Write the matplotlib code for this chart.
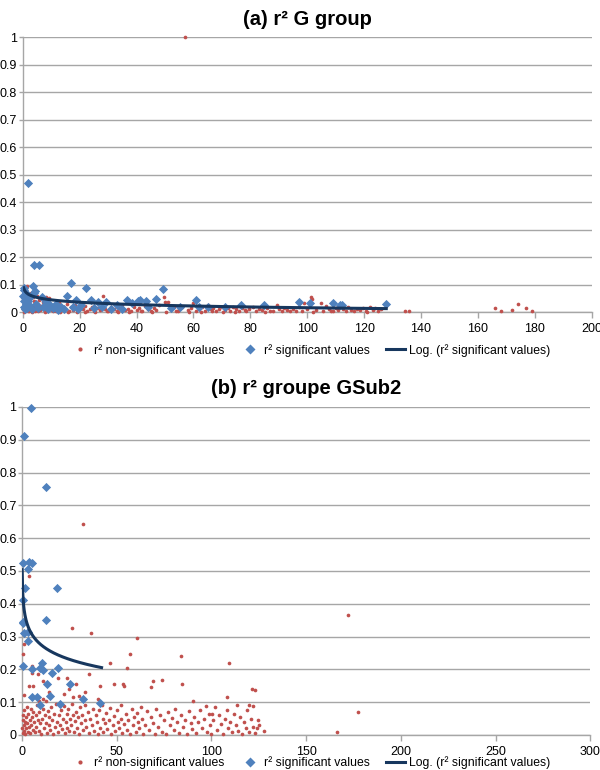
import numpy as np
import matplotlib
matplotlib.use("Agg")
from matplotlib import pyplot as plt
from matplotlib.lines import Line2D

plt.rcParams["font.family"] = ["Liberation Sans", "DejaVu Sans"]

RED = "#C0504D"
BLUE = "#4F81BD"
NAVY = "#17375E"
GRID = "#A6A6A6"

# ---- (a) r2 G group ----
a_red = [
    (0.2, 0.01), (0.5, 0.03), (0.8, 0.005), (1, 0.045), (1.2, 0.02), (1.4, 0.096), (1.6, 0.012),
    (2, 0.035), (2.3, 0.002), (2.6, 0.025), (3, 0.05), (3.3, 0.008), (3.7, 0.018), (4, 0.04),
    (4.4, 0.003), (4.8, 0.028), (5.2, 0.012), (5.6, 0.045), (6, 0.006), (6.5, 0.022), (7, 0.035),
    (7.4, 0.01), (8, 0.055), (8.5, 0.004), (9, 0.018), (9.6, 0.03), (10.2, 0.008), (11, 0.025),
    (11.5, 0.002), (12, 0.015), (12.8, 0.035), (13.5, 0.006), (14, 0.02), (14.8, 0.012),
    (15.5, 0.03), (16.3, 0.004), (17, 0.018), (17.8, 0.008), (18.5, 0.026), (19.3, 0.003),
    (20, 0.015), (21, 0.01), (21.8, 0.022), (22.6, 0.005), (23.5, 0.012), (24.3, 0.02), (25, 0.003),
    (26, 0.016), (27, 0.008), (28.2, 0.06), (29, 0.012), (30, 0.004), (31, 0.02), (32, 0.01),
    (33, 0.003), (34, 0.015), (35, 0.025), (36, 0.006), (37, 0.012), (38, 0.002), (39, 0.018),
    (40, 0.008), (41, 0.014), (42, 0.004), (43, 0.022), (44, 0.01), (45, 0.003), (46, 0.015),
    (47, 0.007), (48, 0.025), (49.5, 0.053), (49.9, 0.037), (51, 0.036), (52, 0.01), (53, 0.018),
    (54, 0.004), (55, 0.012), (56, 0.02), (57, 1.0), (58, 0.008), (59, 0.015), (60, 0.031),
    (61, 0.005), (62, 0.012), (63, 0.02), (64, 0.003), (65, 0.025), (66, 0.01), (67, 0.016),
    (68, 0.004), (69, 0.012), (70, 0.02), (71, 0.006), (72, 0.015), (73, 0.002), (74, 0.02),
    (75, 0.01), (76, 0.004), (77, 0.014), (78, 0.007), (79.6, 0.01), (81, 0.018), (82, 0.003),
    (83, 0.012), (84, 0.006), (86, 0.015), (87, 0.004), (89.4, 0.026), (90, 0.01), (91, 0.003),
    (92, 0.016), (93, 0.008), (94, 0.002), (95, 0.012), (96, 0.005), (97, 0.018), (98, 0.003),
    (99, 0.033), (100, 0.012), (101.5, 0.056), (101.8, 0.048), (103, 0.008), (104.7, 0.033),
    (105.5, 0.004), (106.7, 0.022), (107.5, 0.01), (108.5, 0.003), (110, 0.015), (111, 0.006),
    (112.5, 0.012), (113.5, 0.004), (114.5, 0.018), (115.5, 0.008), (116.5, 0.002), (117.5, 0.012),
    (118.5, 0.006), (119.5, 0.015), (120.5, 0.004), (122, 0.017), (123, 0.009), (124, 0.013),
    (125, 0.003), (126, 0.01), (134.5, 0.002), (135.8, 0.002), (166, 0.015), (168, 0.004),
    (172, 0.007), (174, 0.028), (177, 0.015), (179, 0.003),
    (0.4, 0.06), (0.7, 0.075), (1.5, 0.065), (2.8, 0.07), (3.5, 0.055), (5, 0.06), (6.8, 0.048),
    (9.2, 0.05), (0.3, 0.001), (1.8, 0.004), (3.1, 0.001), (5.5, 0.002), (7.8, 0.001), (10.6, 0.003),
    (13, 0.001), (16, 0.001), (19, 0.001), (22, 0.001), (25.5, 0.001), (29.5, 0.002), (33.5, 0.001),
    (37.5, 0.001), (41.5, 0.002), (45.5, 0.001), (50.5, 0.001), (54.5, 0.002), (58.5, 0.001),
    (62.5, 0.001), (66.5, 0.002), (70.5, 0.001), (74.5, 0.001), (78.5, 0.002), (85, 0.001),
    (88, 0.002), (102, 0.001), (109, 0.002), (121, 0.001),
]
a_blue = [
    (0.2, 0.06), (0.3, 0.04), (0.4, 0.02), (0.5, 0.087), (0.5, 0.08), (0.6, 0.01), (0.8, 0.05),
    (1, 0.03), (1.2, 0.07), (1.5, 0.015), (1.8, 0.469), (2, 0.04), (2.3, 0.025), (2.8, 0.059),
    (3.2, 0.01), (3.6, 0.096), (3.9, 0.17), (4.1, 0.069), (4.4, 0.075), (4.8, 0.03), (5.3, 0.015),
    (5.8, 0.172), (6.6, 0.053), (7.2, 0.02), (8, 0.035), (8.8, 0.01), (9.5, 0.025), (10.5, 0.015),
    (11.5, 0.03), (12.5, 0.008), (13.5, 0.02), (14.5, 0.012), (15.7, 0.058), (16.8, 0.104),
    (17.5, 0.02), (18.7, 0.043), (19.5, 0.012), (20.5, 0.025), (22.1, 0.088), (23.9, 0.044),
    (25, 0.015), (26.5, 0.036), (28, 0.02), (29.3, 0.035), (31, 0.012), (33, 0.025), (35, 0.012),
    (36.8, 0.043), (38.5, 0.032), (40.5, 0.04), (41.3, 0.045), (43.2, 0.04), (44, 0.017),
    (47, 0.046), (49.3, 0.084), (52, 0.015), (55.2, 0.017), (61, 0.044), (62, 0.02), (65, 0.02),
    (71, 0.02), (76.8, 0.026), (84.8, 0.024), (97, 0.036), (100.9, 0.032), (109, 0.034),
    (111.4, 0.027), (112.3, 0.027), (127.8, 0.03),
]
# logarithmic trend line: y = c0 - c1 * ln(x)
a_trend = (0.073, 0.0125)
a_trend_range = (0.3, 127.8)

# ---- (b) r2 groupe GSub2 ----
b_red = [
    (3.9, 0.485), (32.4, 0.643), (172, 0.366), (177.3, 0.071), (166.2, 0.008), (26.2, 0.325),
    (36.3, 0.312), (60.9, 0.295), (57, 0.246), (83.8, 0.242), (0.4, 0.246), (1.1, 0.277),
    (35.4, 0.185), (46.5, 0.218), (55.6, 0.203), (109.4, 0.22), (19.2, 0.173), (23.6, 0.173),
    (69, 0.166), (73.8, 0.167), (68, 0.145), (84.7, 0.155), (48.6, 0.155), (53.5, 0.155),
    (54, 0.15), (41.2, 0.15), (28.4, 0.155), (3.9, 0.15), (5.6, 0.15), (11.3, 0.166), (5.4, 0.19),
    (5.4, 0.21), (1.2, 0.122), (108.1, 0.117), (90.2, 0.104), (121.3, 0.14), (122.8, 0.138),
    (119.6, 0.09), (122.2, 0.089), (113.6, 0.09), (97, 0.089), (100.5, 0.064), (127.8, 0.013),
    (124.5, 0.045), (124, 0.02), (10.5, 0.2), (8.5, 0.185), (14, 0.13), (22, 0.125), (27, 0.115),
    (33, 0.13), (40, 0.11), (9, 0.105), (11, 0.11), (12.5, 0.105), (25, 0.14), (30, 0.12),
    (0.2, 0.02), (0.3, 0.045), (0.5, 0.005), (0.6, 0.06), (0.8, 0.03), (1, 0.012), (1.3, 0.075),
    (1.5, 0.04), (1.7, 0.002), (2, 0.055), (2.2, 0.02), (2.5, 0.085), (2.8, 0.035), (3, 0.01),
    (3.3, 0.065), (3.6, 0.025), (4, 0.045), (4.3, 0.005), (4.6, 0.08), (5, 0.03), (5.3, 0.055),
    (5.7, 0.015), (6, 0.07), (6.4, 0.04), (6.8, 0.008), (7.2, 0.06), (7.6, 0.025), (8, 0.09),
    (8.4, 0.045), (8.8, 0.012), (9.2, 0.07), (9.6, 0.035), (10, 0.003),
    (10.5, 0.05), (11, 0.08), (11.5, 0.02), (12, 0.06), (12.5, 0.038), (13, 0.005), (13.5, 0.072),
    (14, 0.03), (14.5, 0.055), (15, 0.015), (15.5, 0.085), (16, 0.045), (16.5, 0.002), (17, 0.065),
    (17.5, 0.025), (18, 0.095), (18.5, 0.04), (19, 0.01), (19.5, 0.06), (20, 0.03), (20.5, 0.075),
    (21, 0.018), (21.5, 0.05), (22, 0.088), (22.5, 0.005), (23, 0.04), (23.5, 0.065), (24, 0.022),
    (24.5, 0.08), (25, 0.012), (25.5, 0.05), (26, 0.03), (26.5, 0.095), (27, 0.06), (27.5, 0.008),
    (28, 0.042), (28.5, 0.07), (29, 0.02), (29.5, 0.055), (30, 0.003),
    (30.5, 0.085), (31, 0.035), (31.5, 0.062), (32, 0.015), (33, 0.045), (33.5, 0.09), (34, 0.025),
    (35, 0.07), (35.5, 0.005), (36, 0.05), (37, 0.03), (37.5, 0.08), (38, 0.012), (39, 0.06),
    (39.5, 0.04), (40, 0.002), (40.5, 0.075), (41, 0.022), (42, 0.09), (42.5, 0.05), (43, 0.008),
    (44, 0.035), (44.5, 0.068), (45, 0.018), (46, 0.045), (46.5, 0.083), (47, 0.002), (48, 0.03),
    (48.5, 0.058), (49, 0.012), (50, 0.075), (50.5, 0.04), (51, 0.022), (52, 0.092), (52.5, 0.05),
    (53, 0.005), (54, 0.032), (55, 0.065), (55.5, 0.015), (56, 0.045), (57, 0.002), (58, 0.078),
    (58.5, 0.03), (59, 0.055), (60, 0.01),
    (60.5, 0.068), (61, 0.04), (62, 0.02), (63, 0.085), (63.5, 0.05), (64, 0.004), (65, 0.03),
    (66, 0.072), (67, 0.015), (68, 0.055), (69, 0.038), (70, 0.003), (71, 0.078), (72, 0.025),
    (73, 0.06), (74, 0.01), (75, 0.045), (76, 0.002), (77, 0.07), (78, 0.03), (79, 0.052),
    (80, 0.015), (81, 0.08), (82, 0.04), (83, 0.005), (84, 0.06), (85, 0.025), (86, 0.045),
    (87, 0.003), (88, 0.072), (89, 0.035), (90, 0.018),
    (91, 0.055), (92, 0.005), (93, 0.04), (94, 0.075), (95, 0.02), (96, 0.05), (97.5, 0.008),
    (98.5, 0.065), (99, 0.03), (100, 0.004), (101, 0.045), (102, 0.085), (103, 0.015), (104, 0.06),
    (105, 0.032), (106, 0.002), (107, 0.05), (108, 0.075), (109, 0.02), (110, 0.04), (111, 0.008),
    (112, 0.065), (113, 0.03), (114, 0.012), (115, 0.055), (116, 0.002), (117, 0.04), (118, 0.02),
    (119, 0.075), (120, 0.01), (121, 0.05), (122, 0.025), (123, 0.005), (125, 0.03),
]
b_blue = [
    (4.75, 0.998), (1.2, 0.91), (12.5, 0.757), (0.7, 0.523), (3.9, 0.528), (5.5, 0.523),
    (3, 0.505), (1.6, 0.449), (18.3, 0.449), (0.4, 0.41), (0.4, 0.345), (0.5, 0.34),
    (12.5, 0.351), (1.1, 0.31), (3.3, 0.315), (3.3, 0.287), (0.4, 0.21), (5.4, 0.202),
    (9.5, 0.203), (10.7, 0.218), (11.3, 0.198), (19.2, 0.205), (15.7, 0.19), (13, 0.155),
    (25.4, 0.155), (5.1, 0.117), (7.8, 0.117), (14.8, 0.119), (9.5, 0.09), (20, 0.093),
    (32, 0.109), (41.2, 0.097),
]
b_trend = (0.387, 0.0486)
b_trend_range = (0.09, 42)

legend_labels = ["r² non-significant values", "r² significant values",
                 "Log. (r² significant values)"]


def panel(ax, red, blue, trend, trend_range, xmax, xstep, title):
    red = np.array(red)
    blue = np.array(blue)
    ax.scatter(red[:, 0], red[:, 1], s=7, color=RED, marker="o", linewidths=0, zorder=3,
               clip_on=False)
    ax.scatter(blue[:, 0], blue[:, 1], s=22, color=BLUE, marker="D", linewidths=0, zorder=4,
               clip_on=False)
    xs = np.linspace(trend_range[0], trend_range[1], 400)
    ax.plot(xs, trend[0] - trend[1] * np.log(xs), color=NAVY, lw=2.2, zorder=5)
    ax.set_xlim(0, xmax)
    ax.set_ylim(0, 1)
    ax.set_xticks(np.arange(0, xmax + 1, xstep))
    ax.set_yticks(np.arange(0, 1.01, 0.1))
    ax.set_yticklabels(["0"] + ["%.1f" % v for v in np.arange(0.1, 0.95, 0.1)] + ["1"])
    ax.grid(axis="y", color=GRID, lw=1)
    ax.set_axisbelow(True)
    for s in ("top", "right"):
        ax.spines[s].set_visible(False)
    for s in ("left", "bottom"):
        ax.spines[s].set_color(GRID)
        ax.spines[s].set_linewidth(1)
    ax.tick_params(axis="both", labelsize=9, colors="black", length=4, width=1,
                   direction="out")
    ax.tick_params(axis="both", color=GRID)
    ax.tick_params(axis="x", pad=4)
    ax.tick_params(axis="y", length=3, pad=1)
    ax.set_title(title, fontsize=14.5, fontweight="bold", pad=9)


fig = plt.figure(figsize=(6, 7.7), dpi=100)
ax1 = fig.add_axes([0.038, 0.5948, 0.948, 0.357])
ax2 = fig.add_axes([0.0367, 0.0455, 0.947, 0.426])

panel(ax1, a_red, a_blue, a_trend, a_trend_range, 200, 20, "(a) r² G group")
panel(ax2, b_red, b_blue, b_trend, b_trend_range, 300, 50, "(b) r² groupe GSub2")

handles = [
    Line2D([], [], ls="", marker="o", ms=3, color=RED, mec="none"),
    Line2D([], [], ls="", marker="D", ms=5, color=BLUE, mec="none"),
    Line2D([], [], color=NAVY, lw=2.2),
]
for y in (0.545, 0.009):
    fig.legend(handles, legend_labels, loc="center", bbox_to_anchor=(0.517, y), ncol=3,
               frameon=False, fontsize=8.8, handlelength=1.6, columnspacing=1.3,
               handletextpad=0.35, borderpad=0.1)

fig.savefig("out.png", dpi=100)
